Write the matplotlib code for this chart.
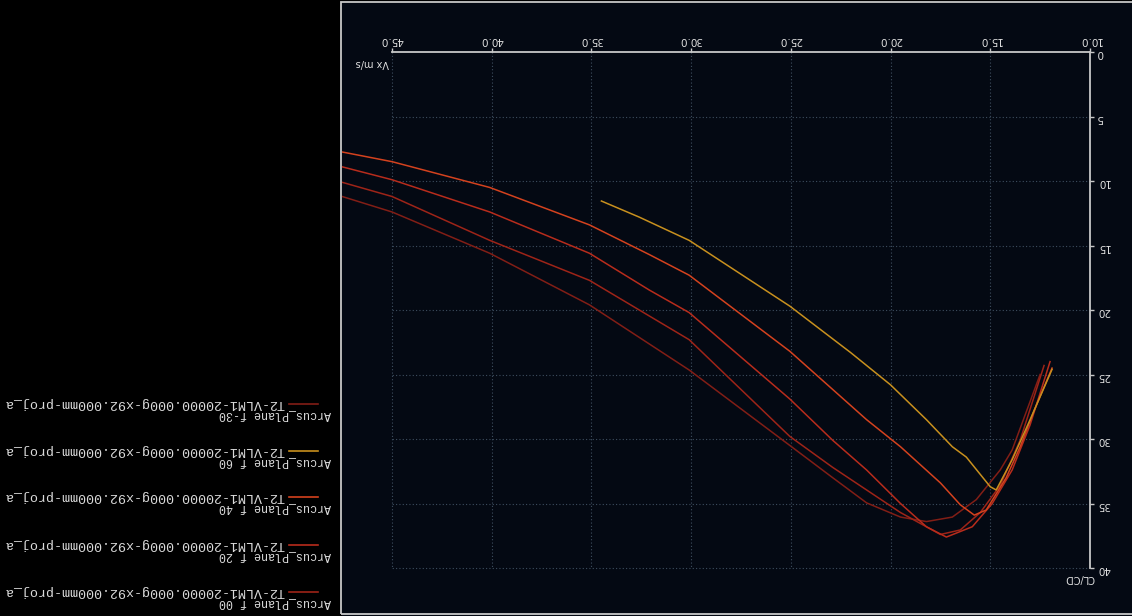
import numpy as np
import matplotlib.pyplot as plt
from matplotlib.lines import Line2D
from matplotlib.patches import Rectangle

v_f40 = [47.5, 45.0, 40.1, 35.1, 32.1, 30.1, 25.05, 21.2, 19.5, 17.5, 16.5, 15.8, 15.2, 14.2, 13.5, 12.8, 11.9]
cl_f40 = [7.75, 8.5, 10.5, 13.4, 15.7, 17.3, 23.2, 28.5, 30.6, 33.4, 35.1, 35.9, 35.5, 33.0, 30.6, 27.8, 24.5]

v_f60 = [34.5, 32.6, 30.1, 25.05, 22.0, 20.0, 18.2, 16.9, 16.2, 15.0, 14.7, 13.9, 13.0, 11.9]
cl_f60 = [11.55, 12.8, 14.6, 19.7, 23.3, 25.8, 28.5, 30.6, 31.4, 33.7, 33.95, 31.6, 28.5, 24.6]

v_f20 = [47.5, 45.0, 40.1, 35.1, 32.1, 30.1, 25.05, 22.9, 21.2, 19.5, 18.2, 17.2, 15.9, 14.9, 13.9, 13.0, 12.0]
cl_f20 = [8.9, 9.9, 12.4, 15.6, 18.45, 20.2, 26.9, 30.1, 32.4, 35.0, 36.8, 37.6, 36.8, 35.0, 32.4, 28.9, 24.0]

v_f00 = [47.5, 45.0, 40.1, 35.1, 30.1, 25.05, 22.9, 21.2, 19.5, 17.5, 16.5, 15.5, 14.5, 13.5, 12.3]
cl_f00 = [10.1, 11.2, 14.6, 17.7, 22.3, 29.8, 32.2, 33.95, 35.7, 37.4, 37.05, 35.7, 33.6, 30.1, 24.3]

v_fm30 = [47.5, 45.0, 40.1, 35.1, 30.1, 25.05, 22.9, 21.2, 19.5, 18.2, 16.9, 15.7, 14.5, 13.9, 12.5]
cl_fm30 = [11.2, 12.4, 15.6, 19.6, 24.65, 30.5, 33.0, 34.95, 36.05, 36.4, 36.05, 34.7, 32.4, 30.85, 25.0]

x_ticks = [10, 15, 20, 25, 30, 35, 40, 45]
y_ticks = [0, 5, 10, 15, 20, 25, 30, 35, 40]

legend_names = ["Arcus_Plane f-30", "Arcus_Plane f 60", "Arcus_Plane f 40",
                "Arcus_Plane f 20", "Arcus_Plane f 00"]
polar_file = "T2-VLM1-20000.000g-x92.000mm-proj_a"

col = {"f40": "#d4421e", "f60": "#c8901e", "f20": "#b82c1c",
       "f00": "#9e2418", "f-30": "#821e16"}
legend_cols = [col["f-30"], col["f60"], col["f40"], col["f20"], col["f00"]]

W, H = 1132, 616
fig = plt.figure(figsize=(W / 100, H / 100), dpi=100, facecolor="#000000")


def fx(px):
    return px / W


def fy(py):
    return 1 - py / H


# the whole screen is upside down, so both axes run backwards
ax = fig.add_axes([fx(342), 0, fx(W - 342), 1 - 3 / H])
ax.set_facecolor("#040913")
ax.set_xlim(47.51, 7.89)
ax.set_ylim(43.72, -3.80)

for s in ["left", "bottom"]:
    ax.spines[s].set_visible(False)
ax.spines["right"].set_position(("data", 10))
ax.spines["right"].set_bounds(0, 40)
ax.spines["top"].set_position(("data", 0))
ax.spines["top"].set_bounds(10, 45)
for s in ["right", "top"]:
    ax.spines[s].set_color("#c8c8c8")
    ax.spines[s].set_linewidth(1.3)

ax.xaxis.set_ticks_position("top")
ax.yaxis.set_ticks_position("right")
ax.set_xticks(x_ticks)
ax.set_xticklabels([f"{t:.1f}" for t in x_ticks], rotation=180)
ax.set_yticks(y_ticks)
ax.set_yticklabels([str(t) for t in y_ticks], rotation=180)
ax.tick_params(colors="#c8c8c8", labelcolor="#e0e0e0", labelsize=7.5,
               length=3, width=1, pad=2)

ax.vlines(x_ticks[1:], 0, 40, colors="#3e4e60", linestyles=(0, (1, 2)), lw=0.8, zorder=0)
ax.hlines(y_ticks[1:], 10, 45, colors="#3e4e60", linestyles=(0, (1, 2)), lw=0.8, zorder=0)

ax.plot(v_fm30, cl_fm30, color=col["f-30"], lw=1.1)
ax.plot(v_f00, cl_f00, color=col["f00"], lw=1.1)
ax.plot(v_f20, cl_f20, color=col["f20"], lw=1.1)
ax.plot(v_f40, cl_f40, color=col["f40"], lw=1.1)
ax.plot(v_f60, cl_f60, color=col["f60"], lw=1.1)

fig.text(fx(372), fy(63), "Vx m/s", rotation=180, ha="center", va="center",
         fontsize=7, color="#e0e0e0")
fig.text(fx(1080), fy(578), "CL/CD", rotation=180, ha="center", va="center",
         fontsize=7, color="#e0e0e0")

# panel frame
fig.add_artist(Rectangle((fx(341), fy(614)), fx(W + 10 - 341), (614 - 2) / H,
                         transform=fig.transFigure, fill=False,
                         edgecolor="#c8c8c8", lw=1.3))

# legend (upside down too)
leg_y = [404, 451, 497, 545, 592]
for name, c, py in zip(legend_names, legend_cols, leg_y):
    fig.add_artist(Line2D([fx(289), fx(318)], [fy(py), fy(py)], color=c, lw=1.2,
                          transform=fig.transFigure))
    fig.text(fx(285), fy(py - 1), polar_file, rotation=180, ha="right", va="center",
             family="Liberation Mono", fontsize=9.6, color="#dcdcdc")
    fig.text(fx(331), fy(py + 11), name, rotation=180, ha="right", va="center",
             family="Liberation Mono", fontsize=8.4, color="#dcdcdc")

fig.savefig("out.png", dpi=100, facecolor=fig.get_facecolor())
